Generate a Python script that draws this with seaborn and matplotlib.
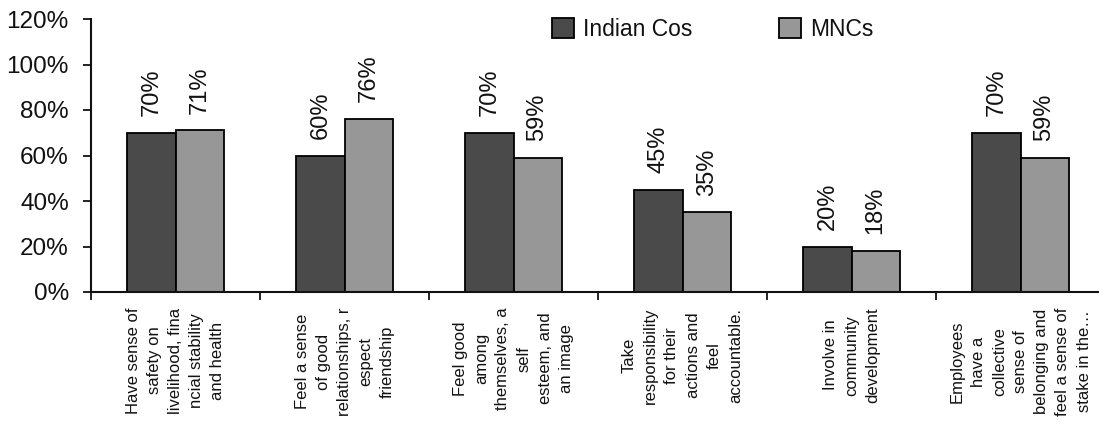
import matplotlib
matplotlib.use("Agg")
import matplotlib.pyplot as plt
import seaborn as sns
import pandas as pd
from matplotlib.ticker import FixedLocator, FuncFormatter

# Survey results: share of employees agreeing with each statement
categories = [
    "Have sense of\nsafety on\nlivelihood, fina\nncial stability\nand health",
    "Feel a sense\nof good\nrelationships, r\nespect\nfriendship",
    "Feel good\namong\nthemselves, a\nself\nesteem, and\nan image",
    "Take\nresponsibility\nfor their\nactions and\nfeel\naccountable.",
    "Involve in\ncommunity\ndevelopment",
    "Employees\nhave a\ncollective\nsense of\nbelonging and\nfeel a sense of\nstake in the\u2026",
]
indian_cos = [70, 60, 70, 45, 20, 70]
mncs = [71, 76, 59, 35, 18, 59]
series_names = ["Indian Cos", "MNCs"]
y_ticks = [0, 20, 40, 60, 80, 100, 120]

df = pd.DataFrame({
    "category": categories * 2,
    "group": [series_names[0]] * len(categories) + [series_names[1]] * len(categories),
    "value": indian_cos + mncs,
})

sns.set_theme(style="white")
plt.rcParams["font.family"] = ["Liberation Sans", "DejaVu Sans"]
plt.rcParams["text.color"] = "#111111"

W, H = 1099, 443
fig = plt.figure(figsize=(W / 100, H / 100), dpi=100)
ax = fig.add_axes([91 / W, (H - 292) / H, (1105 - 91) / W, (292 - 19) / H])

colors = {"Indian Cos": "#4a4a4a", "MNCs": "#979797"}
sns.barplot(data=df, x="category", y="value", hue="group", hue_order=series_names,
            palette=colors, width=0.57, gap=0, edgecolor="black", linewidth=1.3,
            saturation=1, ax=ax, legend=True)

# value labels above each bar, rotated
for cont, vals in zip(ax.containers, [indian_cos, mncs]):
    ax.bar_label(cont, labels=[f"{v}%" for v in vals], rotation=90,
                 padding=12, fontsize=17, color="#111111")

ax.set_xlim(-0.5, len(categories) - 0.5)
ax.set_ylim(0, 120)
ax.set_xlabel("")
ax.set_ylabel("")

ax.yaxis.set_major_locator(FixedLocator(y_ticks))
ax.yaxis.set_major_formatter(FuncFormatter(lambda v, p: f"{v:.0f}%"))
ax.tick_params(axis="y", labelsize=17.5, length=6, width=1.3, direction="out",
               left=True, pad=10, colors="#111111")

ax.set_xticks(range(len(categories)))
ax.set_xticklabels(categories, rotation=90, fontsize=12, ha="center", va="top",
                   multialignment="center", linespacing=1.52)
ax.tick_params(axis="x", which="major", length=0, pad=11, colors="#111111")
ax.set_xticks([i - 0.5 for i in range(len(categories) + 1)], minor=True)
ax.tick_params(axis="x", which="minor", length=6, width=1.3, direction="out",
               bottom=True, color="#111111")

for s in ["top", "right"]:
    ax.spines[s].set_visible(False)
for s in ["left", "bottom"]:
    ax.spines[s].set_color("#111111")
    ax.spines[s].set_linewidth(1.5)

handles, labels = ax.get_legend_handles_labels()
ax.legend(handles, labels, loc="center left",
          bbox_to_anchor=(552 / W, 1 - 29.5 / H), bbox_transform=fig.transFigure,
          ncol=2, frameon=False, fontsize=16.5, handlelength=0.95, handleheight=0.95,
          handletextpad=0.4, columnspacing=3.8, borderpad=0, borderaxespad=0)

fig.savefig("out.png", dpi=100)
